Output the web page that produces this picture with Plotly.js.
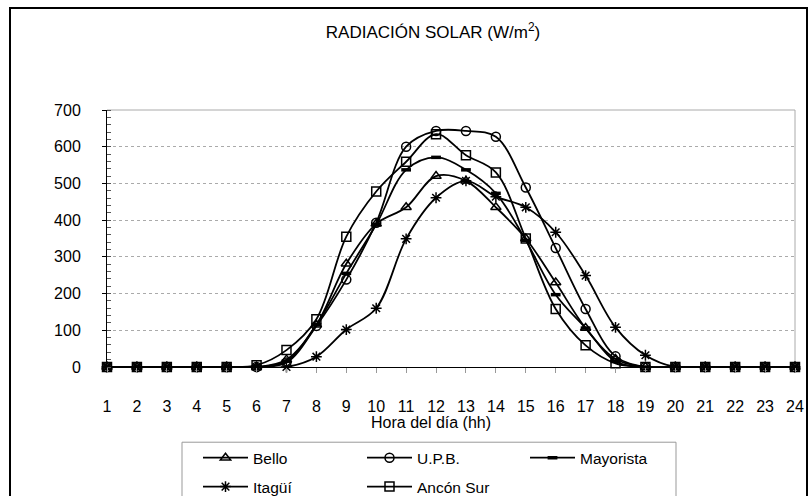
<!DOCTYPE html>
<html>
<head>
<meta charset="utf-8">
<script src="https://cdn.plot.ly/plotly-3.0.1.min.js"></script>
<style>
  html, body { margin: 0; padding: 0; background: #fff; overflow: hidden; }
  #wrap { position: relative; width: 811px; height: 496px; }
  #chart { width: 811px; height: 496px; }
  #frame { position: absolute; left: 9px; top: 7px; width: 799px; height: 500px;
           border: 2.5px solid #000; pointer-events: none; box-sizing: border-box; }
</style>
</head>
<body>
<div id="wrap">
  <div id="chart"></div>
  <div id="frame"></div>
</div>
<script>
const hours = [1,2,3,4,5,6,7,8,9,10,11,12,13,14,15,16,17,18,19,20,21,22,23,24];
const tickLabels = hours.map(String);

const bello     = [0,0,0,0,0,0,20,115,281,390,435,520,507,435,350,230,106,22,0,0,0,0,0,0];
const upb       = [0,0,0,0,0,0,12,112,238,393,600,643,643,627,489,324,158,29,0,0,0,0,0,0];
const mayorista = [0,0,0,0,0,0,16,115,255,388,537,571,537,473,345,197,106,15,0,0,0,0,0,0];
const itagui    = [0,0,0,0,0,0,0,28,102,160,349,461,507,464,435,367,249,108,32,0,0,0,0,0];
const anconSur  = [0,0,0,0,0,5,46,130,355,478,559,634,577,530,350,158,59,10,0,0,0,0,0,0];

const seriesNames = ['Bello','U.P.B.','Mayorista','Itagüí','Ancón Sur'];

const FONT = 'Liberation Sans, Arial, sans-serif';

function trace(name, y, symbol, size, legend, mlw) {
  return {
    type: 'scatter', mode: 'lines+markers', name: name,
    x: hours, y: y, legend: legend,
    line: { color: '#000', width: 1.8, shape: 'spline', smoothing: 1 },
    marker: { symbol: symbol, size: size, color: '#000', line: { color: '#000', width: mlw || 1.5 } },
    cliponaxis: false
  };
}

const data = [
  trace(seriesNames[0], bello, 'triangle-up-open', 9, 'legend'),
  trace(seriesNames[1], upb, 'circle-open', 9, 'legend2'),
  trace(seriesNames[2], mayorista, 'line-ew-open', 7, 'legend3', 3.5),
  trace(seriesNames[3], itagui, 'asterisk-open', 9, 'legend4'),
  trace(seriesNames[4], anconSur, 'square-open', 9, 'legend5')
];

const W = 811, H = 496;
const L = 107, R = 16, T = 109.5, B = 128.5;
const pw = W - L - R, ph = H - T - B;
const px = v => (v - L) / pw;           // pixel x -> paper x
const py = v => (H - B - v) / ph;        // pixel y -> paper y

function leg(lineStartPx, rowPx) {
  return {
    orientation: 'v', xanchor: 'left', yanchor: 'middle',
    x: px(lineStartPx - 5), y: py(rowPx),
    font: { family: FONT, size: 15.5, color: '#000' },
    bgcolor: 'rgba(0,0,0,0)', borderwidth: 0,
    itemwidth: 45, itemclick: false, itemdoubleclick: false
  };
}

const layout = {
  width: W, height: H,
  margin: { l: L, r: R, t: T, b: B, pad: 0, autoexpand: false },
  paper_bgcolor: '#fff', plot_bgcolor: '#fff',
  font: { family: FONT, size: 16, color: '#000' },
  title: {
    text: 'RADIACIÓN SOLAR (W/m<sup>2</sup>)',
    font: { family: FONT, size: 17, color: '#000' },
    x: 433 / W, xref: 'container', xanchor: 'center',
    y: 1 - 32 / H, yref: 'container', yanchor: 'middle'
  },
  xaxis: {
    type: 'linear', range: [1, 24], tickvals: hours, ticktext: tickLabels,
    showgrid: false, zeroline: false,
    showline: true, linecolor: '#000', linewidth: 1,
    ticks: 'outside', ticklen: 5, tickcolor: '#999', tickwidth: 1,
    ticklabelstandoff: 20,
    tickfont: { family: FONT, size: 16, color: '#000' },
    fixedrange: true
  },
  yaxis: {
    range: [0, 700], dtick: 100, tick0: 0,
    showgrid: true, gridcolor: '#aaa', griddash: 'dot', gridwidth: 1,
    zeroline: false,
    showline: true, linecolor: '#000', linewidth: 1,
    ticks: 'outside', ticklen: 4, tickcolor: '#000',
    ticklabelstandoff: 18,
    minor: { dtick: 20, ticks: 'inside', ticklen: 4, tickcolor: '#555', showgrid: false },
    tickfont: { family: FONT, size: 16, color: '#000' },
    fixedrange: true
  },
  showlegend: true,
  legend: leg(203, 459),
  legend2: leg(367, 459),
  legend3: leg(530, 459),
  legend4: leg(203, 488),
  legend5: leg(367, 488),
  shapes: [
    { type: 'path', xref: 'paper', yref: 'paper', path: 'M0,1 L1,1 L1,0',
      line: { color: '#aaa', width: 1 }, layer: 'below' },
    { type: 'rect', xref: 'paper', yref: 'paper',
      x0: px(182), x1: px(676), y0: py(443), y1: py(520),
      line: { color: '#999', width: 1 }, fillcolor: 'rgba(0,0,0,0)' }
  ],
  annotations: [
    { text: 'Hora del día (hh)', xref: 'paper', yref: 'paper',
      x: px(431), y: py(423), xanchor: 'center', yanchor: 'middle',
      showarrow: false, font: { family: FONT, size: 16, color: '#000' } }
  ]
};

Plotly.newPlot('chart', data, layout, { displayModeBar: false, staticPlot: true });
</script>
</body>
</html>
